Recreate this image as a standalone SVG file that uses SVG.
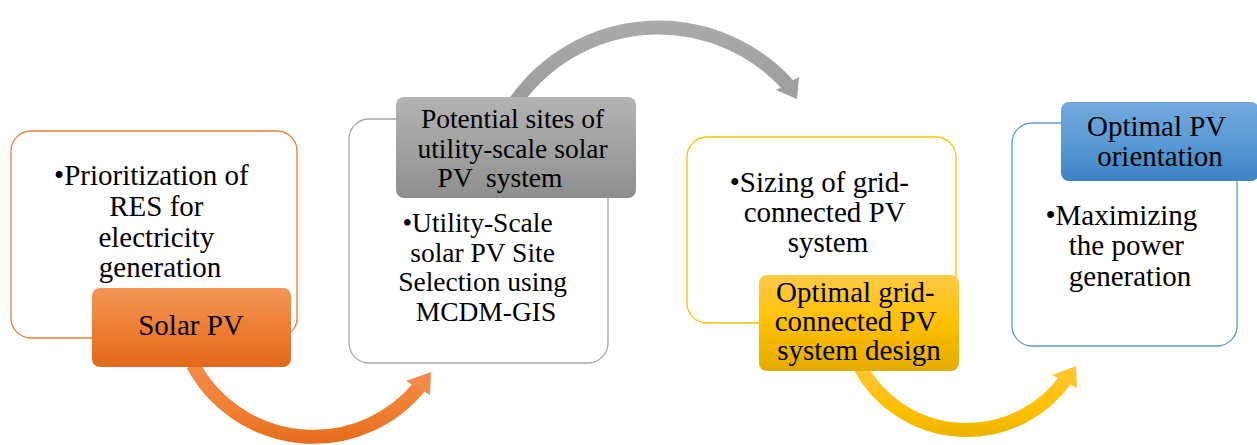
<svg xmlns="http://www.w3.org/2000/svg" width="1257" height="445" viewBox="0 0 1257 445">
  <defs>
    <linearGradient id="gOrange" x1="0" y1="0" x2="0" y2="1">
      <stop offset="0" stop-color="#F39559"/>
      <stop offset="0.5" stop-color="#EE7E33"/>
      <stop offset="1" stop-color="#E2691A"/>
    </linearGradient>
    <linearGradient id="gGray" x1="0" y1="0" x2="0" y2="1">
      <stop offset="0" stop-color="#B3B3B3"/>
      <stop offset="0.5" stop-color="#A2A2A2"/>
      <stop offset="1" stop-color="#8E8E8E"/>
    </linearGradient>
    <linearGradient id="gYellow" x1="0" y1="0" x2="0" y2="1">
      <stop offset="0" stop-color="#FFCB48"/>
      <stop offset="0.5" stop-color="#FFC000"/>
      <stop offset="1" stop-color="#E3AA00"/>
    </linearGradient>
    <linearGradient id="gBlue" x1="0" y1="0" x2="0" y2="1">
      <stop offset="0" stop-color="#72A9DE"/>
      <stop offset="0.5" stop-color="#5B9BD5"/>
      <stop offset="1" stop-color="#3E82C6"/>
    </linearGradient>
    <linearGradient id="aOrange" gradientUnits="userSpaceOnUse" x1="0" y1="362" x2="0" y2="445">
      <stop offset="0" stop-color="#F28A4C"/>
      <stop offset="0.6" stop-color="#F07E30"/>
      <stop offset="1" stop-color="#E46C1A"/>
    </linearGradient>
    <linearGradient id="aGray" gradientUnits="userSpaceOnUse" x1="0" y1="20" x2="0" y2="102">
      <stop offset="0" stop-color="#ABABAB"/>
      <stop offset="1" stop-color="#9C9C9C"/>
    </linearGradient>
    <linearGradient id="aYellow" gradientUnits="userSpaceOnUse" x1="0" y1="362" x2="0" y2="440">
      <stop offset="0" stop-color="#FFC83C"/>
      <stop offset="0.6" stop-color="#FFC000"/>
      <stop offset="1" stop-color="#E9B200"/>
    </linearGradient>
  </defs>
  <style>
    .body { fill: #FFFFFF; stroke-width: 1.3; }
    .txt { font-family: "Liberation Serif", "Times New Roman", serif; font-size: 29px; fill: #000000; text-anchor: middle; }
    .tight { font-size: 27.5px; }
    .shaft { fill: none; stroke-width: 14; }
  </style>

  <!-- curved connectors -->
  <g id="connectors">
    <path class="shaft" stroke="url(#aOrange)" d="M193,365 A137 137 0 0 0 420,386"/>
    <polygon fill="#F28A4C" points="431,372 406,381 430,395"/>
    <path class="shaft" stroke="url(#aGray)" d="M516,101 A175 175 0 0 1 789,86"/>
    <polygon fill="#A0A0A0" points="797,99 776,90 799,77"/>
    <path class="shaft" stroke="url(#aYellow)" d="M860,367 A122 122 0 0 0 1066,379"/>
    <polygon fill="#FFC52A" points="1076,366 1052,375 1077,388"/>
  </g>

  <!-- step 1 -->
  <g id="node-solar-pv">
    <rect class="body" x="11" y="131" width="286" height="207" rx="20" stroke="#ED7D31"/>
    <text class="txt">
      <tspan x="155" y="185">•Prioritization of</tspan>
      <tspan x="160" y="216">RES for</tspan>
      <tspan x="160" y="247">electricity</tspan>
      <tspan x="160" y="277">generation</tspan>
    </text>
    <rect x="92" y="288" width="199" height="79" rx="8" fill="url(#gOrange)"/>
    <text class="txt" x="191" y="335">Solar PV</text>
  </g>

  <!-- step 2 -->
  <g id="node-potential-sites">
    <rect class="body" x="349" y="119" width="259" height="244" rx="20" stroke="#A5A5A5"/>
    <text class="txt tight">
      <tspan x="481" y="232">•Utility-Scale</tspan>
      <tspan x="486" y="261.5">solar PV Site</tspan>
      <tspan x="486" y="291">Selection using</tspan>
      <tspan x="486" y="320.5">MCDM-GIS</tspan>
    </text>
    <rect x="396" y="97" width="240" height="101" rx="8" fill="url(#gGray)"/>
    <text class="txt tight">
      <tspan x="516" y="128">Potential sites of</tspan>
      <tspan x="516" y="157.5">utility-scale solar</tspan>
      <tspan x="500" y="187" xml:space="preserve">PV  system</tspan>
    </text>
  </g>

  <!-- step 3 -->
  <g id="node-grid-design">
    <rect class="body" x="687" y="137" width="269" height="186" rx="20" stroke="#FFC000"/>
    <text class="txt">
      <tspan x="823" y="192">•Sizing of grid-</tspan>
      <tspan x="828" y="222">connected PV</tspan>
      <tspan x="828" y="252">system</tspan>
    </text>
    <rect x="759" y="275" width="200" height="96" rx="8" fill="url(#gYellow)"/>
    <text class="txt">
      <tspan x="859" y="302">Optimal grid-</tspan>
      <tspan x="859" y="331">connected PV</tspan>
      <tspan x="859" y="360">system design</tspan>
    </text>
  </g>

  <!-- step 4 -->
  <g id="node-orientation">
    <rect class="body" x="1012" y="123" width="225" height="223" rx="20" stroke="#5B9BD5"/>
    <text class="txt">
      <tspan x="1125" y="225">•Maximizing</tspan>
      <tspan x="1130" y="255">the power</tspan>
      <tspan x="1130" y="286">generation</tspan>
    </text>
    <rect x="1061" y="102" width="198" height="79" rx="8" fill="url(#gBlue)"/>
    <text class="txt">
      <tspan x="1160" y="136">Optimal PV</tspan>
      <tspan x="1160" y="166">orientation</tspan>
    </text>
  </g>
</svg>
